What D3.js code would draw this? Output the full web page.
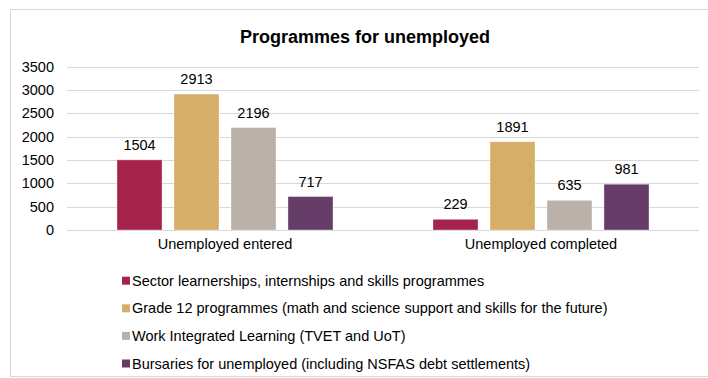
<!DOCTYPE html>
<html>
<head>
<meta charset="utf-8">
<script src="https://cdn.jsdelivr.net/npm/d3@7"></script>
<style>
  html, body { margin: 0; padding: 0; background: #fff; }
  svg { display: block; font-family: "Liberation Sans", Arial, sans-serif; }
</style>
</head>
<body>
<svg id="chart" width="708" height="378"></svg>
<script>
// Programme intake and completion counts
const categories = ["Unemployed entered", "Unemployed completed"];
const seriesNames = [
  "Sector learnerships, internships and skills programmes",
  "Grade 12 programmes (math and science support and skills for the future)",
  "Work Integrated Learning (TVET and UoT)",
  "Bursaries for unemployed (including NSFAS debt settlements)"
];
const sectorValues   = [1504, 229];
const grade12Values  = [2913, 1891];
const wilValues      = [2196, 635];
const bursaryValues  = [717, 981];
const seriesColors = ["#a6234c", "#d5af68", "#bab2a9", "#663c68"];
const yTicks = [0, 500, 1000, 1500, 2000, 2500, 3000, 3500];

const seriesValues = [sectorValues, grade12Values, wilValues, bursaryValues];

const svg = d3.select("#chart");

// outer frame
svg.append("rect")
  .attr("x", 10.5).attr("y", 9.5)
  .attr("width", 720).attr("height", 367)
  .attr("fill", "#fff")
  .attr("stroke", "#d9d9d9").attr("stroke-width", 1);

const plot = { left: 67, right: 699, top: 66.7, bottom: 230 };

const x0 = d3.scaleBand()
  .domain(categories)
  .range([plot.left, plot.right])
  .paddingInner(0).paddingOuter(0);

const x1 = d3.scaleBand()
  .domain(d3.range(seriesNames.length))
  .range([50, x0.bandwidth() - 50])
  .paddingInner(0.21).paddingOuter(0);

const y = d3.scaleLinear()
  .domain([0, 3500])
  .range([plot.bottom, plot.top]);

// title
svg.append("text")
  .attr("x", 365).attr("y", 43)
  .attr("text-anchor", "middle")
  .attr("font-size", 18).attr("font-weight", "bold")
  .attr("fill", "#000")
  .text("Programmes for unemployed");

// gridlines
svg.append("g")
  .selectAll("line")
  .data(yTicks)
  .join("line")
  .attr("x1", plot.left).attr("x2", plot.right)
  .attr("y1", d => Math.round(y(d)) + 0.5)
  .attr("y2", d => Math.round(y(d)) + 0.5)
  .attr("stroke", "#d9d9d9").attr("stroke-width", 1);

// y axis labels
const yAxis = d3.axisLeft(y).tickValues(yTicks).tickFormat(d3.format("d"))
  .tickSize(0).tickPadding(0);
const yg = svg.append("g")
  .attr("transform", `translate(${plot.left - 13},0)`)
  .call(yAxis);
yg.select(".domain").remove();
yg.selectAll("text")
  .attr("font-size", 14.5)
  .attr("font-family", "Liberation Sans, Arial, sans-serif")
  .attr("fill", "#000");

// bars
const groups = svg.append("g")
  .selectAll("g")
  .data(categories)
  .join("g")
  .attr("transform", d => `translate(${x0(d)},0)`);

groups.selectAll("rect")
  .data((c, ci) => seriesValues.map((vals, si) => ({ si, v: vals[ci] })))
  .join("rect")
  .attr("x", d => x1(d.si))
  .attr("width", x1.bandwidth())
  .attr("y", d => y(d.v))
  .attr("height", d => y(0) - y(d.v))
  .attr("fill", d => seriesColors[d.si])
  .attr("stroke", "#fff").attr("stroke-opacity", 0.35).attr("stroke-width", 1);

groups.selectAll("text.val")
  .data((c, ci) => seriesValues.map((vals, si) => ({ si, v: vals[ci] })))
  .join("text")
  .attr("class", "val")
  .attr("x", d => x1(d.si) + x1.bandwidth() / 2)
  .attr("y", d => y(d.v) - 10)
  .attr("text-anchor", "middle")
  .attr("font-size", 14.5)
  .attr("fill", "#000")
  .text(d => d.v);

// category labels
svg.append("g")
  .selectAll("text")
  .data(categories)
  .join("text")
  .attr("x", d => x0(d) + x0.bandwidth() / 2)
  .attr("y", 249)
  .attr("text-anchor", "middle")
  .attr("font-size", 14.5)
  .attr("fill", "#000")
  .text(d => d);

// legend
const legend = svg.append("g")
  .selectAll("g")
  .data(seriesNames)
  .join("g")
  .attr("transform", (d, i) => `translate(122,${280.7 + i * 27.6})`);

legend.append("rect")
  .attr("x", 0).attr("y", -4)
  .attr("width", 8).attr("height", 8)
  .attr("fill", (d, i) => seriesColors[i]);

legend.append("text")
  .attr("x", 10).attr("y", 5)
  .attr("font-size", 14.5)
  .attr("fill", "#000")
  .text(d => d);
</script>
</body>
</html>
